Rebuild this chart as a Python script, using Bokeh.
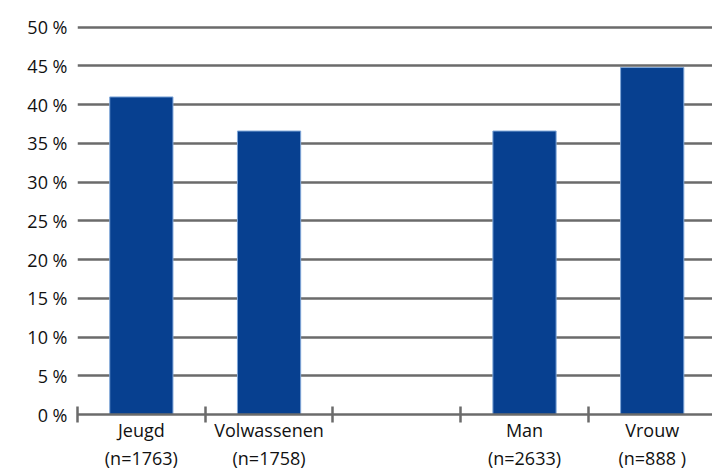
from bokeh.plotting import figure
from bokeh.models import FixedTicker, PrintfTickFormatter, Range1d, ColumnDataSource
from bokeh.embed import file_html
from bokeh.resources import INLINE

groups = ["Jeugd", "Volwassenen", "", "Man", "Vrouw"]
counts = ["(n=1763)", "(n=1758)", "", "(n=2633)", "(n=888 )"]
values = [41.0, 36.6, None, 36.6, 44.8]
y_ticks = [0, 5, 10, 15, 20, 25, 30, 35, 40, 45, 50]

xs, tops = [], []
for i, v in enumerate(values):
    if v is not None:
        xs.append(i + 0.5)
        tops.append(v)
src = ColumnDataSource(dict(x=xs, top=tops))

FONT = "Open Sans"
GRID = "#6b6b6b"
TXT = "#111111"

p = figure(width=712, height=473, output_backend="svg", toolbar_location=None,
           x_range=Range1d(0, 4.972), y_range=Range1d(0, 51),
           min_border_left=77, min_border_right=0, min_border_top=19,
           min_border_bottom=58)
p.outline_line_color = None
p.background_fill_color = "white"

p.vbar(x="x", top="top", width=0.495, source=src, fill_color="#074090",
       line_color="#7fa6d8", line_width=1)

# y axis
p.yaxis.ticker = FixedTicker(ticks=y_ticks)
p.yaxis.formatter = PrintfTickFormatter(format="%d %%")
p.yaxis.axis_line_color = None
p.yaxis.major_tick_line_color = None
p.yaxis.minor_tick_line_color = None
p.yaxis.major_tick_out = 0
p.yaxis.major_tick_in = 0
p.yaxis.major_label_standoff = 10
p.yaxis.major_label_text_font = FONT
p.yaxis.major_label_text_font_size = "18px"
p.yaxis.major_label_text_color = TXT

p.ygrid.ticker = FixedTicker(ticks=y_ticks)
p.ygrid.grid_line_color = GRID
p.ygrid.grid_line_width = 2.5
p.xgrid.grid_line_color = None

# x axis
centers = [i + 0.5 for i in range(len(groups))]
bounds = [float(i) for i in range(len(groups))]
p.xaxis.ticker = FixedTicker(ticks=centers, minor_ticks=bounds)
p.xaxis.major_label_overrides = {
    c: (g + "\n" + n if g else "") for c, g, n in zip(centers, groups, counts)
}
p.xaxis.axis_line_color = GRID
p.xaxis.axis_line_width = 2.5
p.xaxis.major_tick_in = 0
p.xaxis.major_tick_out = 0
p.xaxis.minor_tick_in = 8
p.xaxis.minor_tick_out = 8
p.xaxis.minor_tick_line_color = GRID
p.xaxis.minor_tick_line_width = 2.5
p.xaxis.major_label_standoff = -5
p.xaxis.major_label_text_font = FONT
p.xaxis.major_label_text_font_size = "18px"
p.xaxis.major_label_text_color = TXT
p.xaxis.major_label_text_line_height = 1.2

open("out.html", "w").write(file_html(p, INLINE))
